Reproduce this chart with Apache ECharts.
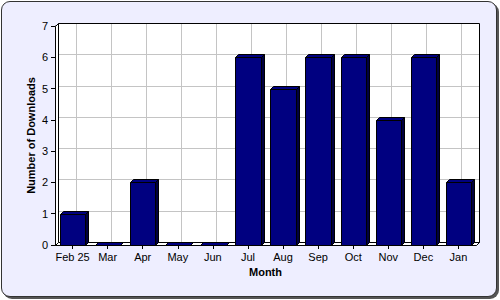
<!DOCTYPE html>
<html>
<head>
<meta charset="utf-8">
<script src="https://cdn.jsdelivr.net/npm/echarts@6/dist/echarts.min.js"></script>
<style>
html,body{margin:0;padding:0;background:#fff;}
#wrap{position:relative;width:500px;height:300px;overflow:hidden;background:#fff;}
#frame{position:absolute;left:1px;top:1px;width:494px;height:294px;border:1px solid #333;border-radius:9px;background:#eeeeff;box-shadow:2px 2px 0 #555;}
#c{position:absolute;left:0;top:0;width:500px;height:300px;}
</style>
</head>
<body>
<div id="wrap"><div id="frame"></div><div id="c"></div></div>
<script>
const categories = ['Feb 25','Mar','Apr','May','Jun','Jul','Aug','Sep','Oct','Nov','Dec','Jan'];
const downloads = [1,0,2,0,0,6,5,6,6,4,6,2];
const yMin = 0, yMax = 7, yStep = 1;
const xTitle = 'Month';
const yTitle = 'Number of Downloads';

const DEPTH = 3;
const FONT = 'Liberation Sans, Arial, sans-serif';

const chart = echarts.init(document.getElementById('c'), null, {renderer:'svg'});

function wallsRender(params, api){
  const cs = params.coordSys;
  const d = DEPTH;
  const L = Math.round(cs.x) + 0.5, T = Math.round(cs.y) + 0.5;
  const R = Math.round(cs.x + cs.width) + 0.5, B = Math.round(cs.y + cs.height) + 0.5;
  const children = [];
  children.push({type:'rect', shape:{x:L+d, y:T-d, width:R-L, height:B-T},
    style:{fill:'#fff', stroke:'none'}});
  for (let i = 0; i < categories.length; i++) {
    const x = Math.round(api.coord([i, 0])[0]) + d + 0.5;
    children.push({type:'line', shape:{x1:x, y1:T-d, x2:x, y2:B-d},
      style:{stroke:'#c4c4c4', lineWidth:1}});
  }
  for (let v = yMin + yStep; v < yMax; v += yStep) {
    const y = Math.round(api.coord([0, v])[1]) - d + 0.5;
    children.push({type:'line', shape:{x1:L+d, y1:y, x2:R+d, y2:y},
      style:{stroke:'#c4c4c4', lineWidth:1}});
  }
  children.push({type:'rect', shape:{x:L+d, y:T-d, width:R-L, height:B-T},
    style:{fill:'none', stroke:'#000', lineWidth:1}});
  children.push({type:'polygon', shape:{points:[[L,T],[L+d,T-d],[L+d,B-d],[L,B]]},
    style:{fill:'#fff', stroke:'#000', lineWidth:1}});
  children.push({type:'polygon', shape:{points:[[L,B],[L+d,B-d],[R+d,B-d],[R,B]]},
    style:{fill:'#fff', stroke:'#000', lineWidth:1}});
  return {type:'group', children};
}

function barRender(params, api){
  const d = DEPTH;
  const idx = api.value(0), val = api.value(1);
  const p0 = api.coord([idx, 0]);
  const p1 = api.coord([idx, val]);
  const bw = api.size([1, 0])[0] * 0.72;
  const x = Math.round(p0[0] - bw/2) + 0.5;
  const xr = Math.round(p0[0] + bw/2) + 0.5;
  const yt = Math.round(p1[1]) + 0.5;
  const yb = Math.round(p0[1]) + 0.5;
  const st = {stroke:'#000', lineWidth:1};
  return {type:'group', children:[
    {type:'polygon', shape:{points:[[xr,yt],[xr+d,yt-d],[xr+d,yb-d],[xr,yb]]},
      style:Object.assign({fill:'#000040'}, st)},
    {type:'polygon', shape:{points:[[x,yt],[x+d,yt-d],[xr+d,yt-d],[xr,yt]]},
      style:Object.assign({fill:'#000080'}, st)},
    {type:'rect', shape:{x:x, y:yt, width:xr-x, height:yb-yt},
      style:Object.assign({fill:'#000080'}, st)}
  ]};
}

chart.setOption({
  animation:false,
  backgroundColor:'transparent',
  grid:{left:55, top:26, width:421, height:219},
  xAxis:{
    type:'category', data:categories, boundaryGap:true,
    axisLine:{show:true, lineStyle:{color:'#000', width:1}},
    axisTick:{show:true, alignWithLabel:true, length:4, lineStyle:{color:'#000'}},
    axisLabel:{color:'#000', fontFamily:FONT, fontSize:11, margin:6, interval:0},
    splitLine:{show:false},
    name:xTitle, nameLocation:'middle', nameGap:21, nameMoveOverlap:false,
    nameTextStyle:{color:'#000', fontFamily:FONT, fontSize:11, fontWeight:'bold'}
  },
  yAxis:{
    type:'value', min:yMin, max:yMax, interval:yStep,
    axisLine:{show:true, lineStyle:{color:'#000', width:1}},
    axisTick:{show:true, length:4, lineStyle:{color:'#000'}},
    axisLabel:{color:'#000', fontFamily:FONT, fontSize:11, margin:7},
    splitLine:{show:false},
    name:yTitle, nameLocation:'middle', nameGap:19, nameMoveOverlap:false,
    nameTextStyle:{color:'#000', fontFamily:FONT, fontSize:11, fontWeight:'bold'}
  },
  series:[
    {type:'custom', z:2, silent:true, renderItem:wallsRender, data:[[0,0]], encode:{x:0,y:1}},
    {type:'custom', z:3, renderItem:barRender, data:downloads.map((v,i)=>[i,v]), encode:{x:0,y:1}}
  ]
});
</script>
</body>
</html>
